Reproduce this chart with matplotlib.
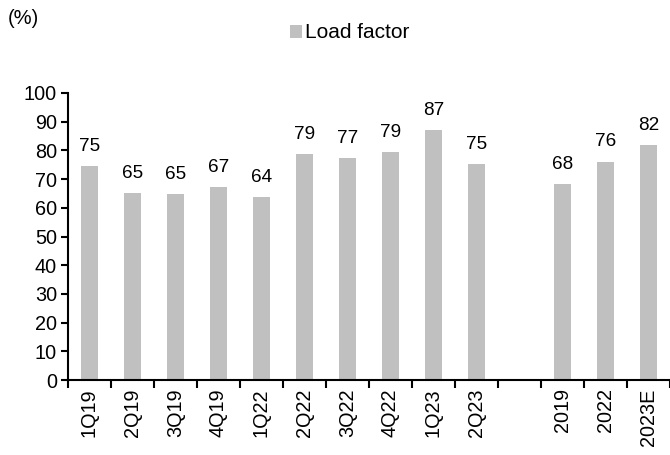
import matplotlib
matplotlib.use("Agg")
import matplotlib.pyplot as plt
import numpy as np

categories = ["1Q19", "2Q19", "3Q19", "4Q19", "1Q22", "2Q22", "3Q22", "4Q22",
              "1Q23", "2Q23", "", "2019", "2022", "2023E"]
values = [74.6, 65.2, 64.8, 67.2, 63.6, 78.6, 77.2, 79.4, 87.0, 75.3,
          None, 68.2, 76.1, 82.0]
series_name = "Load factor"
yticks = list(range(0, 101, 10))

plt.rcParams['font.family'] = ['Liberation Sans', 'DejaVu Sans']

fig = plt.figure(figsize=(6.70, 4.55), dpi=100)
ax = fig.add_axes([68/670, 75/455, (670-68)/670, (380-93)/455])

x = np.arange(len(categories))
bx = [xi for xi, v in zip(x, values) if v is not None]
bv = [v for v in values if v is not None]
bars = ax.bar(bx, bv, width=0.4, color="#c0c0c0", label=series_name, zorder=2)
for xi, v in zip(bx, bv):
    ax.annotate(f"{v:.0f}", (xi, v), xytext=(0, 8), textcoords="offset points",
                ha="center", va="bottom", fontsize=13.7)

ax.set_xlim(-0.5, len(categories) - 0.5)
ax.set_ylim(0, 100)
ax.set_yticks(yticks)
ax.tick_params(axis="y", direction="out", length=5, width=1.5, labelsize=14.3, pad=3)

ax.set_xticks(np.arange(len(categories) + 1) - 0.5)
ax.set_xticklabels([])
ax.tick_params(axis="x", which="major", direction="out", length=6, width=1.5)
ax.set_xticks(x, minor=True)
ax.set_xticklabels(categories, minor=True, rotation=90, fontsize=14.3)
ax.tick_params(axis="x", which="minor", length=0, pad=6)

for s in ["top", "right"]:
    ax.spines[s].set_visible(False)
for s in ["left", "bottom"]:
    ax.spines[s].set_linewidth(1.5)

fig.text(8/670, 1 - 19/455, "(%)", fontsize=14.5, ha="left", va="center")
fig.legend(handles=[bars], labels=[series_name], loc="center",
           bbox_to_anchor=(0.522, 1 - 33/455), frameon=False, fontsize=15,
           handlelength=0.6, handleheight=0.6, handletextpad=0.15)

fig.savefig("out.png", dpi=100)
